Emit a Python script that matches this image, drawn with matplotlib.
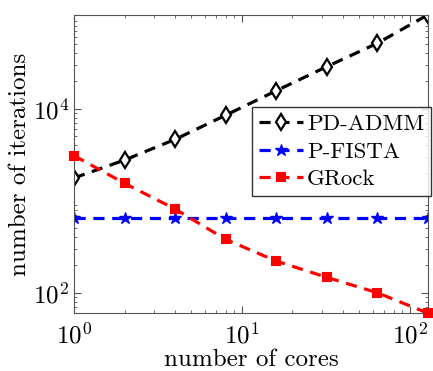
import matplotlib.pyplot as plt

plt.rcParams['font.family'] = 'serif'
plt.rcParams['font.serif'] = ['cmr10', 'DejaVu Serif']
plt.rcParams['mathtext.fontset'] = 'cm'
plt.rcParams['axes.formatter.use_mathtext'] = True

# === Data ===
cores = [1, 2, 4, 8, 16, 32, 64, 128]
pd_admm = [1770, 2770, 4650, 8500, 15700, 28700, 51500, 105000]
p_fista = [645, 645, 645, 645, 645, 645, 645, 645]
grock = [3090, 1545, 813, 380, 221, 147, 100, 60]

fig, ax = plt.subplots(figsize=(4.33, 3.71), dpi=100)
fig.subplots_adjust(left=0.171, right=0.988, top=0.96, bottom=0.156)

ax.loglog(cores, pd_admm, '--', color='black', lw=2.3, marker='d', ms=8,
          mfc='white', mec='black', mew=1.6, dashes=(3.5, 2.4), label='PD-ADMM')
ax.loglog(cores, p_fista, '--', color='blue', lw=2.3, marker='*', ms=9,
          mfc='blue', mec='blue', dashes=(3.5, 2.4), label='P-FISTA')
ax.loglog(cores, grock, '--', color='red', lw=2.3, marker='s', ms=6,
          mfc='red', mec='red', mew=1.5, dashes=(3.5, 2.4), label='GRock',
          clip_on=False, zorder=5)

ax.set_xlim(1, 128)
ax.set_ylim(60, 1.05e5)
ax.set_xlabel('number of cores', fontsize=18, labelpad=0)
ax.set_ylabel('number of iterations', fontsize=18, labelpad=1)
ax.set_yticks([1e2, 1e4])
ax.tick_params(which='both', direction='in', top=True, right=True,
               labelsize=18, color='#555555')
ax.tick_params(which='major', length=5)
ax.tick_params(which='minor', length=2.5)
ax.tick_params(axis='x', pad=7)
ax.minorticks_on()
for s in ax.spines.values():
    s.set_color('#555555')

leg = ax.legend(loc='upper right', bbox_to_anchor=(1.01, 0.69), fontsize=16.5,
                frameon=True, fancybox=False, edgecolor='black',
                handlelength=1.9, handletextpad=0.2, borderpad=0.3,
                labelspacing=0.32, borderaxespad=0)
leg.get_frame().set_linewidth(1.0)

plt.savefig('out.png')
